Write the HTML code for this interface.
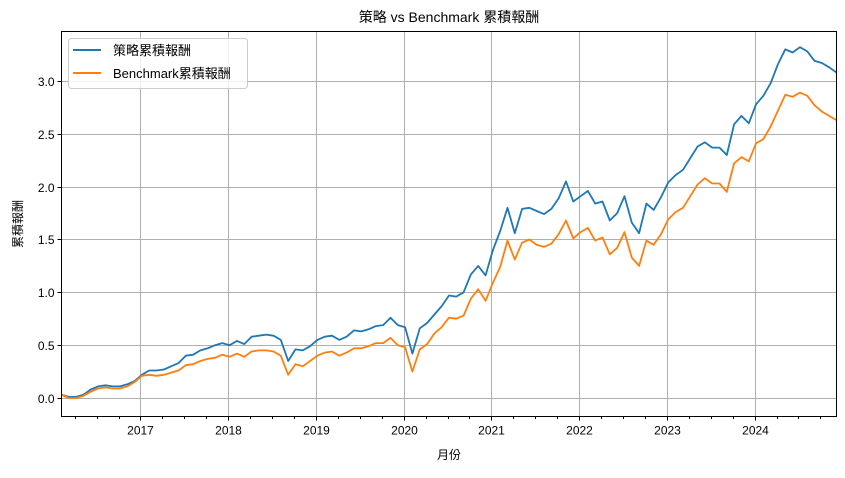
<!DOCTYPE html>
<html><head><meta charset="utf-8"><style>
body{margin:0;background:#fff;}
svg text{font-family:"Liberation Sans","Noto Sans CJK TC",sans-serif;fill:#000;}
</style></head><body>
<svg id="chart" width="845" height="473" viewBox="0 0 845 473" xmlns="http://www.w3.org/2000/svg">
<rect width="845" height="473" fill="#fff"/>
<text x="449" y="22" font-size="14" text-anchor="middle">策略 vs Benchmark 累積報酬</text>
<g id="grid"></g>
<g id="series"></g>
<rect x="61.5" y="31.5" width="775" height="385" fill="none" stroke="#000" stroke-width="1"/>
<g id="axes"></g>
<text x="449" y="459" font-size="12" text-anchor="middle">月份</text>
<text transform="translate(22,224) rotate(-90)" font-size="12" text-anchor="middle">累積報酬</text>
<g>
<rect x="68.5" y="38.5" width="179" height="50" rx="3" fill="#fff" fill-opacity="0.8" stroke="#ccc"/>
<line x1="73" y1="50" x2="101" y2="50" stroke="#1f77b4" stroke-width="2"/>
<text x="113" y="55" font-size="13">策略累積報酬</text>
<line x1="73" y1="73" x2="101" y2="73" stroke="#ff7f0e" stroke-width="2"/>
<text x="113" y="78" font-size="13">Benchmark累積報酬</text>
</g>
</svg>
<script>
const strategy=[0.03,0.01,0.01,0.03,0.08,0.11,0.12,0.11,0.11,0.13,0.16,
0.22,0.26,0.26,0.27,0.30,0.33,0.40,0.41,0.45,0.47,0.50,0.52,
0.50,0.54,0.51,0.58,0.59,0.60,0.59,0.55,0.35,0.46,0.45,0.49,
0.55,0.58,0.59,0.55,0.58,0.64,0.63,0.65,0.68,0.69,0.76,0.69,0.67,
0.42,0.66,0.71,0.79,0.87,0.97,0.96,1.00,1.17,1.25,1.16,1.40,
1.58,1.80,1.56,1.79,1.80,1.77,1.74,1.79,1.89,2.05,1.86,1.91,
1.96,1.84,1.86,1.68,1.75,1.91,1.66,1.56,1.84,1.78,1.90,2.04,
2.11,2.16,2.27,2.38,2.42,2.37,2.37,2.30,2.59,2.67,2.60,2.78,
2.86,2.98,3.16,3.30,3.27,3.32,3.28,3.19,3.17,3.13,3.08];
const benchmark=[0.03,0.00,0.00,0.02,0.06,0.09,0.10,0.09,0.09,0.11,0.15,
0.21,0.22,0.21,0.22,0.24,0.26,0.31,0.32,0.35,0.37,0.38,0.41,
0.39,0.42,0.39,0.44,0.45,0.45,0.44,0.40,0.22,0.32,0.30,0.35,
0.40,0.43,0.44,0.40,0.43,0.47,0.47,0.49,0.52,0.52,0.57,0.50,0.48,
0.25,0.46,0.51,0.61,0.67,0.76,0.75,0.78,0.94,1.03,0.92,1.09,
1.24,1.49,1.31,1.47,1.50,1.45,1.43,1.46,1.55,1.68,1.51,1.57,
1.61,1.49,1.52,1.36,1.42,1.57,1.33,1.25,1.49,1.45,1.55,1.69,
1.76,1.80,1.91,2.02,2.08,2.03,2.03,1.95,2.22,2.28,2.24,2.41,
2.45,2.57,2.72,2.87,2.85,2.89,2.86,2.77,2.71,2.67,2.63];
const yTicks=[0.0,0.5,1.0,1.5,2.0,2.5,3.0];
const yTickLabels=["0.0","0.5","1.0","1.5","2.0","2.5","3.0"];
const xYears=[2017,2018,2019,2020,2021,2022,2023,2024];
const firstYearOffset=10.8; // month index of Jan 2017

const NS="http://www.w3.org/2000/svg";
const L=61.5,R=836.5,T=31.5,B=416.5;
const n=strategy.length;
function xs(i){return L+(R-L)*i/(n-1);}
function ys(v){return 398-105.67*v;}
function mk(tag,attrs,parent){const e=document.createElementNS(NS,tag);for(const k in attrs)e.setAttribute(k,attrs[k]);parent.appendChild(e);return e;}
const grid=document.getElementById('grid'),axes=document.getElementById('axes'),series=document.getElementById('series');
yTicks.forEach((v,k)=>{const y=Math.round(ys(v))+0.5;
 const g=mk('line',{x1:L,x2:R,y1:y,y2:y,stroke:'#b0b0b0','stroke-width':1},grid);
 
 
 const t=mk('line',{x1:L-4,x2:L,y1:y,y2:y,stroke:'#000'},axes);
 
 
 const tx=mk('text',{x:L-7,y:y+4.5,'font-size':12,'text-anchor':'end'},axes);
 tx.textContent=yTickLabels[k];
 
 
});
for(let m=firstYearOffset-9;m<=n-1;m+=3){if(m<0)continue;
 const x=Math.round(xs(m))+0.5;
 const t=mk('line',{x1:x,x2:x,y1:B,y2:B+2.5,stroke:'#000'},axes);
 
 
}
xYears.forEach((yr)=>{const x=Math.round(xs((yr-2017)*12+firstYearOffset))+0.5;
 const g=mk('line',{x1:x,x2:x,y1:T,y2:B,stroke:'#b0b0b0','stroke-width':1},grid);
 
 
 const t=mk('line',{x1:x,x2:x,y1:B,y2:B+4,stroke:'#000'},axes);
 
 
 const tx=mk('text',{x:x,y:B+18,'font-size':12,'text-anchor':'middle'},axes);
 tx.textContent=String(yr);
 
 
});
function line(data,color,name){
 const p=mk('polyline',{points:data.map((v,i)=>xs(i).toFixed(1)+','+ys(v).toFixed(1)).join(' '),fill:'none',stroke:color,'stroke-width':1.8,'stroke-linejoin':'round'},series);
 
 
}
line(strategy,'#1f77b4','strategy-line');
line(benchmark,'#ff7f0e','benchmark-line');
</script>
</body></html>
